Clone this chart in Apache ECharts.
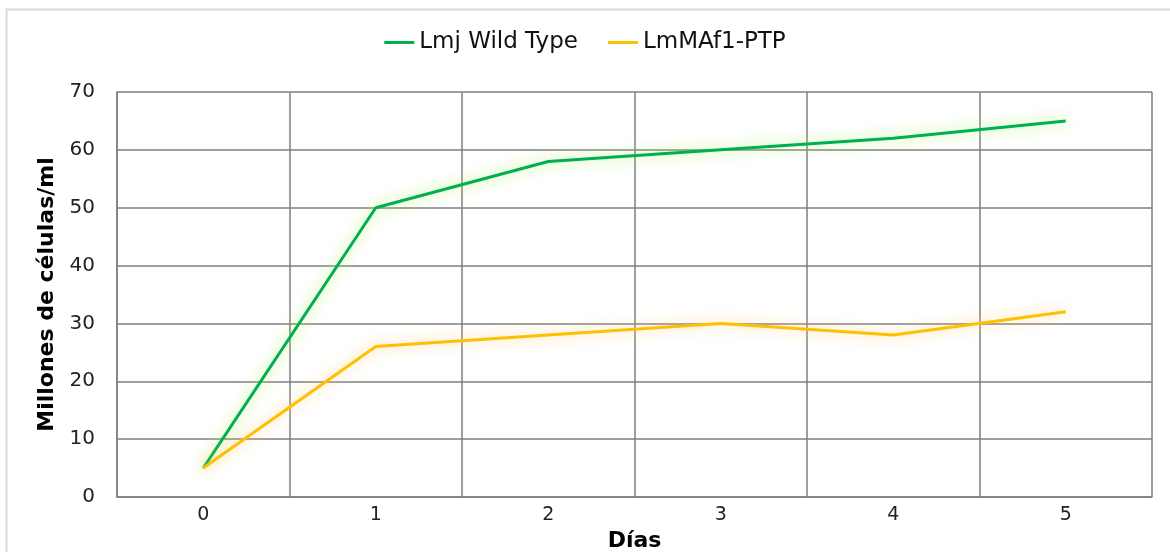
<!DOCTYPE html>
<html><head><meta charset="utf-8">
<script src="https://cdn.jsdelivr.net/npm/echarts@6/dist/echarts.min.js"></script>
<style>html,body{margin:0;padding:0;background:#fff}#c{width:1170px;height:552px}</style>
</head><body><div id="c"></div>
<script>
const categories = ['0','1','2','3','4','5'];
const wildType = [5, 50, 58, 60, 62, 65];
const ptp = [5, 26, 28, 30, 28, 32];
const yTicks = {min: 0, max: 70, interval: 10};
const seriesNames = ['Lmj Wild Type', 'LmMAf1-PTP'];

const chart = echarts.init(document.getElementById('c'));
const font = '"DejaVu Sans", sans-serif';
chart.setOption({
  animation: false,
  backgroundColor: '#fff',
  graphic: [{type:'rect', shape:{x:6.5, y:9.5, width:1200, height:600}, style:{fill:'none', stroke:'#d9d9d9', lineWidth:2}, z:-1}],
  legend: {
    top: 26, left: 'center', itemWidth: 30, itemHeight: 3, itemGap: 30,
    icon: 'rect',
    textStyle: {fontFamily: font, fontSize: 23, color: '#111'},
    data: seriesNames
  },
  grid: {left: 117, right: 18, top: 92, bottom: 55, containLabel: false, outerBoundsMode: 'none'},
  xAxis: {
    type: 'category', data: categories, boundaryGap: true,
    name: 'Días', nameLocation: 'middle', nameGap: 33,
    nameTextStyle: {fontFamily: font, fontSize: 22, fontWeight: 'bold', color: '#000'},
    axisLine: {lineStyle: {color: '#7f7f7f', width: 1.5}},
    axisTick: {show: false},
    axisLabel: {fontFamily: font, fontSize: 19, color: '#222', margin: 9},
    splitLine: {show: true, lineStyle: {color: '#7f7f7f', width: 1.5}}
  },
  yAxis: {
    type: 'value', min: yTicks.min, max: yTicks.max, interval: yTicks.interval,
    name: 'Millones de células/ml', nameLocation: 'middle', nameGap: 56,
    nameTextStyle: {fontFamily: font, fontSize: 22, fontWeight: 'bold', color: '#000'},
    axisLine: {show: true, lineStyle: {color: '#7f7f7f', width: 1.5}},
    axisTick: {show: false},
    axisLabel: {fontFamily: font, fontSize: 20, color: '#222', margin: 22},
    splitLine: {lineStyle: {color: '#7f7f7f', width: 1.5}}
  },
  series: [
    {name: seriesNames[0], type: 'line', data: wildType, symbol: 'none',
     color: '#00B050',
     lineStyle: {color: '#00B050', width: 3, shadowColor: 'rgba(170,240,90,0.95)', shadowBlur: 14}},
    {name: seriesNames[1], type: 'line', data: ptp, symbol: 'none',
     color: '#FFC000',
     lineStyle: {color: '#FFC000', width: 3, shadowColor: 'rgba(255,200,110,0.9)', shadowBlur: 14}}
  ]
});
</script></body></html>
